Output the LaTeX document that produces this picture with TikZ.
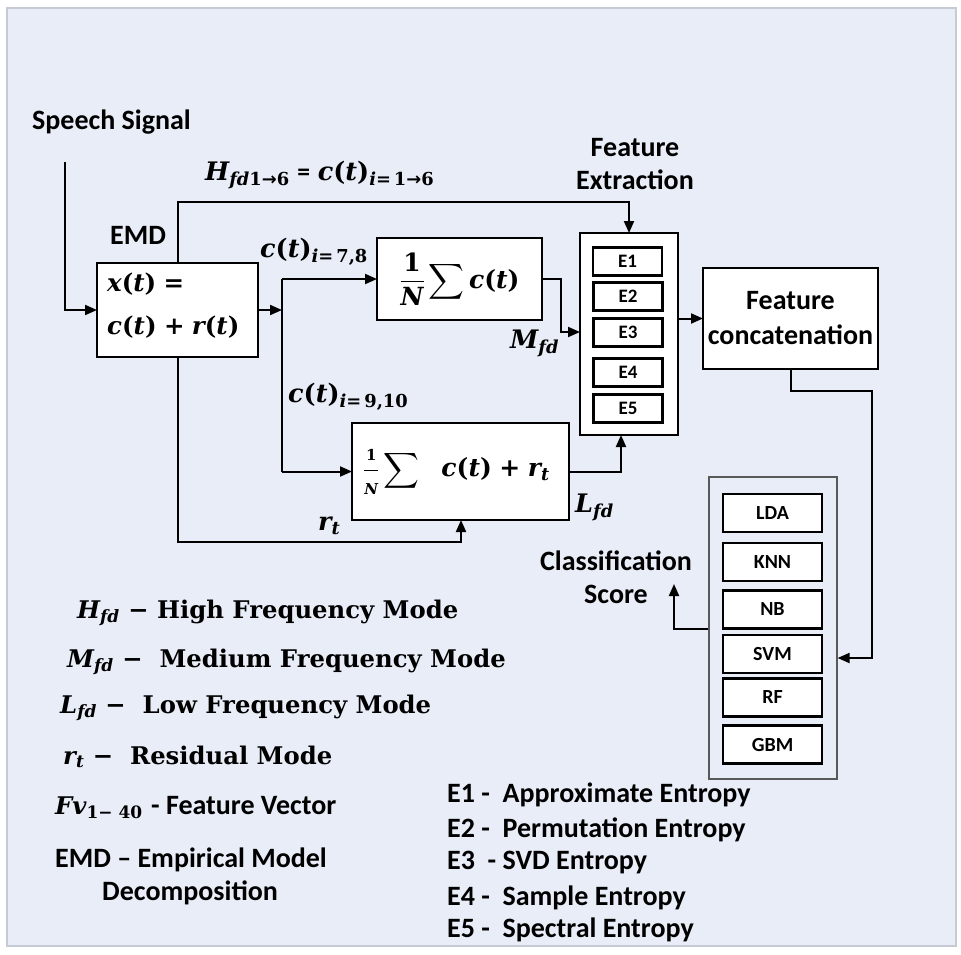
\documentclass[tikz,border=0pt]{standalone}
\usepackage{fontspec}
\usepackage{amsmath}
\newfontfamily\carl{Carlito}
\newfontfamily\dvs{DejaVu Serif}
\newfontfamily\dvsans{DejaVu Sans}
\usetikzlibrary{arrows.meta}
\definecolor{bg}{HTML}{E8EDF7}
\definecolor{panelline}{HTML}{C5CAD3}
\newcommand\mv[1]{{\dvs\bfseries\itshape #1}}
\newcommand\mr[1]{{\dvs\bfseries #1}}
\newcommand\fs[1]{\fontsize{#1}{#1}\selectfont}
\newcommand\ct{\mv{c}\mr{(}\mv{t}\mr{)}}
\newcommand\mysub[1]{\textsubscript{#1}}
\newcommand\rarr{{\dvsans\bfseries →}}
\begin{document}
\begin{tikzpicture}[x=1pt,y=-1pt,
  box/.style={draw=black, line width=2.4pt, fill=white, inner sep=0pt, outer sep=0pt, anchor=center},
  ebox/.style={box, line width=2.2pt, minimum width=69pt, minimum height=28pt, font=\carl\bfseries\fontsize{19}{22}\selectfont},
  cbox/.style={box, minimum width=99pt, minimum height=38pt, font=\carl\bfseries\fontsize{20}{24}\selectfont},
  arr/.style={line width=2pt, -{Triangle[length=12pt,width=10pt]}},
  ln/.style={line width=2pt},
  sans/.style={font=\carl\bfseries\fontsize{28}{33}\selectfont, inner sep=0pt},
  mathl/.style={font=\fontsize{25.5}{30}\selectfont, inner sep=0pt},
  leg/.style={font=\dvs\bfseries\fontsize{24.3}{29}\selectfont, anchor=west, inner sep=0pt},
  ent/.style={font=\carl\bfseries\fontsize{28}{33}\selectfont, anchor=west, inner sep=0pt}]
\useasboundingbox (0,0) rectangle (961,954);
\fill[white] (0,0) rectangle (961,954);
\draw[panelline, fill=bg, line width=1.5pt] (7,8) rectangle (956,946);

% main boxes
\node[box, minimum width=161pt, minimum height=94pt] (emd) at (177.5,310) {};
\node[box, minimum width=165pt, minimum height=82pt, font=\fontsize{25}{30}\selectfont] (med) at (459.5,279)
  {$\displaystyle\frac{\hbox{\mr{1}}}{\hbox{\mv{N}}}\sum$\,\ct};
\node[box, minimum width=217pt, minimum height=97pt, font=\fontsize{25}{30}\selectfont] (low) at (460.5,471.5)
  {\hspace{-8pt}$\displaystyle\frac{\hbox{\fs{15}\mr{1}}}{\hbox{\fs{15}\mv{N}}}\sum$\hspace{22pt}\ct\ \mr{+}\ \mv{r}\mysub{\mv{t}}};
\node[box, minimum width=98pt, minimum height=202pt] (fe) at (629,334) {};
\node[box, minimum width=175pt, minimum height=101pt, align=center, font=\carl\bfseries\fontsize{28}{35}\selectfont] (fc) at (790.5,318.5) {Feature\\concatenation};
\node[draw=gray!70!black, line width=1.2pt, inner sep=0pt, minimum width=128pt, minimum height=302pt] (cls) at (773,628) {};

% entropy boxes
\node[ebox] (e1) at (627.5,261.5) {E1};
\node[ebox] (e2) at (628,296.5) {E2};
\node[ebox] (e3) at (628,332.5) {E3};
\node[ebox] (e4) at (628,372.5) {E4};
\node[ebox] (e5) at (628,408.5) {E5};

% classifier boxes
\node[cbox] (lda) at (772.5,513) {LDA};
\node[cbox] (knn) at (772.5,562) {KNN};
\node[cbox] (nb)  at (772.5,609.5) {NB};
\node[cbox] (svm) at (772.5,654) {SVM};
\node[cbox] (rf)  at (772.5,697.5) {RF};
\node[cbox] (gbm) at (772.5,744.5) {GBM};

% text inside EMD box
\node[mathl, anchor=west, font=\fontsize{24.5}{29}\selectfont] (emda) at (107,284) {\mv{x}\mr{(}\mv{t}\mr{)} \mr{=}};
\node[mathl, anchor=west, font=\fontsize{24.5}{29}\selectfont] (emdb) at (107,327) {\ct\ \mr{+} \mv{r}\mr{(}\mv{t}\mr{)}};

% labels
\node[sans, anchor=west] (speech) at (32,122) {Speech Signal};
\node[sans, anchor=west] (emdl) at (110,235) {EMD};
\node[sans, align=center, font=\carl\bfseries\fontsize{28}{33}\selectfont] (fel) at (635,164) {Feature\\Extraction};
\node[sans, align=center, font=\carl\bfseries\fontsize{28}{33}\selectfont] (csl) at (616,577) {Classification\\Score};
\node[mathl, anchor=west] (hl) at (205,175) {\mv{H}\mysub{\mv{fd}\mr{1}\rarr\mr{6}} {\carl\bfseries =} \ct\mysub{\mv{i}\mr{=\,1}\rarr\mr{6}}};
\node[mathl, anchor=west] (c78) at (260,252) {\ct\mysub{\mv{i}\mr{=\,7,8}}};
\node[mathl, anchor=west] (c910) at (288,397) {\ct\mysub{\mv{i}\mr{=\,9,10}}};
\node[mathl, anchor=west] (mfd) at (510,343) {\mv{M}\mysub{\mv{fd}}};
\node[mathl, anchor=west] (lfd) at (575,507) {\mv{L}\mysub{\mv{fd}}};
\node[mathl, anchor=west] (rt) at (318,526) {\mv{r}\mysub{\mv{t}}};

% connectors
\coordinate (inp) at (65,162);
\draw[arr] (inp) |- (emd.west);
\coordinate (htop) at (629,202);
\draw[arr] (emd.north) |- (htop) -- (fe.north);
\coordinate (split) at (282,310);
\coordinate (splittop) at (282,279);
\coordinate (splitbot) at (282,471.5);
\draw[arr] (emd.east) -- (split);
\draw[ln] (splittop) -- (splitbot);
\draw[arr] (splittop) -- (med.west);
\draw[arr] (splitbot) -- (low.west);
\coordinate (mfdc) at (561,332);
\draw[arr] (med.east) -| (mfdc) -- (mfdc -| fe.west);
\coordinate (lfdc) at (621,471.5);
\draw[arr] (low.east) -- (lfdc) -- (lfdc |- fe.south);
\coordinate (resc) at (461,542);
\draw[arr] (emd.south) |- (resc) -- (resc |- low.south);
\draw[arr] (fe.east |- fc.west) -- (fc.west);
\coordinate (fcc1) at (872,391);
\coordinate (fcc2) at (872,658);
\draw[arr] (fc.south) |- (fcc1) -- (fcc2) -- (fcc2 -| cls.east);
\coordinate (scc) at (674,629);
\coordinate (scoretip) at (674,584);
\draw[arr] (scc -| cls.west) -- (scc) -- (scoretip);

% legend
\node[leg] (lg1) at (77,613) {\mv{H}\mysub{\mv{fd}} − High Frequency Mode};
\node[leg] (lg2) at (67,662) {\mv{M}\mysub{\mv{fd}} −\ \ Medium Frequency Mode};
\node[leg] (lg3) at (60,708) {\mv{L}\mysub{\mv{fd}} −\ \ Low Frequency Mode};
\node[leg] (lg4) at (63,757) {\mv{r}\mysub{\mv{t}} −\ \ Residual Mode};
\node[leg] (lg5) at (55,808) {\mv{Fv}\mysub{\mr{1− 40}} {\carl\bfseries\fontsize{28}{33}\selectfont - Feature Vector}};
\node[ent] (lg6) at (55,860) {EMD – Empirical Model};
\node[ent] (lg7) at (102,893) {Decomposition};

\node[ent] (en1) at (447,795) {E1 -\ \ Approximate Entropy};
\node[ent] (en2) at (447,830) {E2 -\ \ Permutation Entropy};
\node[ent] (en3) at (447,863) {E3\ \ - SVD Entropy};
\node[ent] (en4) at (447,898) {E4 -\ \ Sample Entropy};
\node[ent] (en5) at (447,930) {E5 -\ \ Spectral Entropy};
\end{tikzpicture}
\end{document}
